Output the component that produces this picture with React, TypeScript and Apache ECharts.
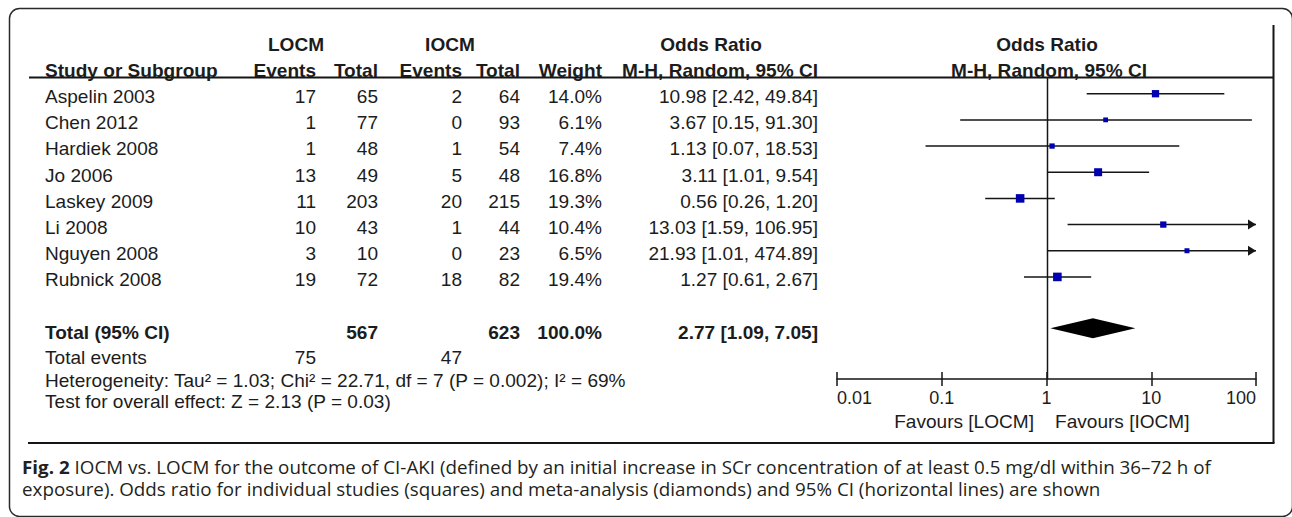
import React, { useEffect, useRef } from "react";
import * as echarts from "echarts";

// ---------- data ----------
const studies = ["Aspelin 2003", "Chen 2012", "Hardiek 2008", "Jo 2006", "Laskey 2009", "Li 2008", "Nguyen 2008", "Rubnick 2008"];
const locmEvents = [17, 1, 1, 13, 11, 10, 3, 19];
const locmTotal = [65, 77, 48, 49, 203, 43, 10, 72];
const iocmEvents = [2, 0, 1, 5, 20, 1, 0, 18];
const iocmTotal = [64, 93, 54, 48, 215, 44, 23, 82];
const weights = [14.0, 6.1, 7.4, 16.8, 19.3, 10.4, 6.5, 19.4];
const oddsRatio = [10.98, 3.67, 1.13, 3.11, 0.56, 13.03, 21.93, 1.27];
const ciLower = [2.42, 0.15, 0.07, 1.01, 0.26, 1.59, 1.01, 0.61];
const ciUpper = [49.84, 91.3, 18.53, 9.54, 1.2, 106.95, 474.89, 2.67];

const totalLabel = "Total (95% CI)";
const totalLocm = 567;
const totalIocm = 623;
const totalWeight = 100.0;
const pooledOR = 2.77;
const pooledLower = 1.09;
const pooledUpper = 7.05;
const totalEventsLocm = 75;
const totalEventsIocm = 47;
const heterogeneityText = "Heterogeneity: Tau² = 1.03; Chi² = 22.71, df = 7 (P = 0.002); I² = 69%";
const overallEffectText = "Test for overall effect: Z = 2.13 (P = 0.03)";
const xTicks = [0.01, 0.1, 1, 10, 100];
const favoursLabels = ["Favours [LOCM]", "Favours [IOCM]"];
const captionBold = "Fig. 2";
const captionLine1 = " IOCM vs. LOCM for the outcome of CI-AKI (defined by an initial increase in SCr concentration of at least 0.5 mg/dl within 36–72 h of";
const captionLine2 = "exposure). Odds ratio for individual studies (squares) and meta-analysis (diamonds) and 95% CI (horizontal lines) are shown";

// ---------- layout ----------
const W = 1292;
const H = 517;
const GRID_LEFT = 837;
const GRID_RIGHT_PX = 1256;
const GRID_TOP = 78;
const GRID_BOTTOM_PX = 379;
const Y_MIN = -0.6;
const Y_MAX = 10.9;
const X_MIN = xTicks[0];
const X_MAX = xTicks[xTicks.length - 1];
const TOTAL_ROW = 9;
const ROW_H = (GRID_BOTTOM_PX - GRID_TOP) / (Y_MAX - Y_MIN);
const rowPx = (r: number) => GRID_TOP + (r - Y_MIN) * ROW_H;

const FONT = "'Liberation Sans', Arial, Helvetica, sans-serif";
const CAP_FONT = "'Open Sans', sans-serif";
const FS = 18;
const SX = 1.06;
const TXT = "#1c1c1c";
const LINE = "#151515";
const BLUE = "#0000b0";

const COL = {
  name: 45,
  ev1: 316,
  tot1: 378,
  ev2: 462,
  tot2: 520,
  weight: 602,
  orText: 818,
};

const fmtOR = (o: number, l: number, u: number) => `${o.toFixed(2)} [${l.toFixed(2)}, ${u.toFixed(2)}]`;

function txt(text: string, x: number, y: number, align: string, bold = false) {
  return {
    type: "text",
    x,
    y,
    scaleX: SX,
    silent: true,
    style: {
      text,
      fill: TXT,
      font: `${bold ? "bold " : ""}${FS}px ${FONT}`,
      align,
      verticalAlign: "middle",
    },
  };
}

export default function App() {
  const ref = useRef<HTMLDivElement>(null);

  useEffect(() => {
    if (!ref.current) return;
    const chart = echarts.init(ref.current, null, { renderer: "svg" });

    const hdr1 = rowPx(-2) + 3;
    const hdr2 = rowPx(-1) + 3;
    const footEvents = rowPx(10) + 2;
    const footHet = rowPx(10.85) + 3;
    const footTest = rowPx(11.65) + 3;

    const graphic: any[] = [
      {
        type: "rect",
        z: -10,
        silent: true,
        shape: { x: 9.5, y: 8.5, width: 1283, height: 508, r: 10 },
        style: { fill: "none", stroke: "#2a2a2a", lineWidth: 1.5 },
      },
      { type: "line", silent: true, shape: { x1: 29, y1: GRID_TOP - 0.5, x2: 1274, y2: GRID_TOP - 0.5 }, style: { stroke: LINE, lineWidth: 2 } },
      { type: "line", silent: true, shape: { x1: 1273.5, y1: 25, x2: 1273.5, y2: 443 }, style: { stroke: LINE, lineWidth: 2 } },
      { type: "line", silent: true, shape: { x1: 28, y1: 443, x2: 1274.5, y2: 443 }, style: { stroke: LINE, lineWidth: 2 } },
      txt("LOCM", 296, hdr1, "center", true),
      txt("IOCM", 450, hdr1, "center", true),
      txt("Odds Ratio", 711, hdr1, "center", true),
      txt("Odds Ratio", 1047, hdr1, "center", true),
      txt("Study or Subgroup", COL.name, hdr2, "left", true),
      txt("Events", COL.ev1, hdr2, "right", true),
      txt("Total", COL.tot1, hdr2, "right", true),
      txt("Events", COL.ev2, hdr2, "right", true),
      txt("Total", COL.tot2, hdr2, "right", true),
      txt("Weight", COL.weight, hdr2, "right", true),
      txt("M-H, Random, 95% CI", COL.orText, hdr2, "right", true),
      txt("M-H, Random, 95% CI", 1049, hdr2, "center", true),
      txt("Total events", COL.name, footEvents, "left"),
      txt(String(totalEventsLocm), COL.ev1, footEvents, "right"),
      txt(String(totalEventsIocm), COL.ev2, footEvents, "right"),
      txt(heterogeneityText, COL.name, footHet, "left"),
      txt(overallEffectText, COL.name, footTest, "left"),
      txt(favoursLabels[0], 1034, 422, "right"),
      txt(favoursLabels[1], 1055, 422, "left"),
      {
        type: "text",
        x: 22,
        y: 478,
        scaleX: 1.045,
        silent: true,
        style: {
          text: `{b|${captionBold}}{r|${captionLine1}}\n{r|${captionLine2}}`,
          font: `18px ${CAP_FONT}`,
          fill: "#231f20",
          align: "left",
          verticalAlign: "middle",
          lineHeight: 22,
          rich: {
            b: { fontWeight: "bold", fontSize: 18, fontFamily: CAP_FONT, fill: "#231f20", lineHeight: 22 },
            r: { fontSize: 18, fontFamily: CAP_FONT, fill: "#231f20", lineHeight: 22 },
          },
        },
      },
    ];

    const studyData = studies.map((_, i) => [oddsRatio[i], i]);

    const option: any = {
      animation: false,
      backgroundColor: "#ffffff",
      grid: {
        left: GRID_LEFT,
        right: W - GRID_RIGHT_PX,
        top: GRID_TOP,
        bottom: H - GRID_BOTTOM_PX,
        containLabel: false,
      },
      xAxis: [
        {
          type: "log",
          logBase: 10,
          min: X_MIN,
          max: X_MAX,
          position: "bottom",
          splitLine: { show: false },
          axisLine: { show: true, onZero: false, lineStyle: { color: LINE, width: 1.5 } },
          axisTick: { show: true, inside: false, length: 7, lineStyle: { color: LINE, width: 1.5 } },
          minorTick: { show: false },
          axisLabel: {
            show: true,
            margin: 10,
            color: TXT,
            fontSize: FS,
            fontFamily: FONT,
            alignMinLabel: "left",
            alignMaxLabel: "right",
            formatter: (v: number) => String(parseFloat(Number(v).toPrecision(3))),
          },
        },
        {
          type: "log",
          logBase: 10,
          min: X_MIN,
          max: X_MAX,
          position: "bottom",
          splitLine: { show: false },
          axisLine: { show: false, onZero: false },
          axisTick: { show: true, inside: true, length: 7, lineStyle: { color: LINE, width: 1.5 } },
          axisLabel: { show: false },
        },
      ],
      yAxis: {
        type: "value",
        inverse: true,
        min: Y_MIN,
        max: Y_MAX,
        show: false,
        splitLine: { show: false },
      },
      graphic,
      series: [
        {
          name: "reference",
          type: "custom",
          clip: false,
          silent: true,
          data: [[1, Y_MIN]],
          encode: { x: 0, y: 1 },
          renderItem: (_params: any, api: any) => {
            const top = api.coord([1, Y_MIN]);
            const bot = api.coord([1, Y_MAX]);
            return {
              type: "line",
              shape: { x1: Math.round(top[0]) + 0.5, y1: top[1], x2: Math.round(bot[0]) + 0.5, y2: bot[1] },
              style: { stroke: LINE, lineWidth: 1.5 },
            };
          },
        },
        {
          name: "studies",
          type: "custom",
          clip: false,
          silent: true,
          data: studyData,
          encode: { x: 0, y: 1 },
          z: 3,
          renderItem: (params: any, api: any) => {
            const i = params.dataIndex;
            const yc = api.coord([1, i])[1];
            const lo = Math.max(ciLower[i], X_MIN);
            const hi = Math.min(ciUpper[i], X_MAX);
            const xl = api.coord([lo, i])[0];
            const xh = api.coord([hi, i])[0];
            const xo = api.coord([oddsRatio[i], i])[0];
            const children: any[] = [];
            children.push({
              type: "line",
              shape: { x1: xl, y1: yc, x2: xh, y2: yc },
              style: { stroke: LINE, lineWidth: 1.5 },
            });
            if (ciUpper[i] > X_MAX) {
              children.push({
                type: "polygon",
                shape: { points: [[xh - 8, yc - 5], [xh, yc], [xh - 8, yc + 5]] },
                style: { fill: LINE },
              });
            }
            if (ciLower[i] < X_MIN) {
              children.push({
                type: "polygon",
                shape: { points: [[xl + 8, yc - 5], [xl, yc], [xl + 8, yc + 5]] },
                style: { fill: LINE },
              });
            }
            const s = 1.95 * Math.sqrt(weights[i]);
            children.push({
              type: "rect",
              shape: { x: xo - s / 2, y: yc - s / 2, width: s, height: s },
              style: { fill: BLUE },
            });
            const ty = yc + 3;
            children.push(txt(studies[i], COL.name, ty, "left"));
            children.push(txt(String(locmEvents[i]), COL.ev1, ty, "right"));
            children.push(txt(String(locmTotal[i]), COL.tot1, ty, "right"));
            children.push(txt(String(iocmEvents[i]), COL.ev2, ty, "right"));
            children.push(txt(String(iocmTotal[i]), COL.tot2, ty, "right"));
            children.push(txt(`${weights[i].toFixed(1)}%`, COL.weight, ty, "right"));
            children.push(txt(fmtOR(oddsRatio[i], ciLower[i], ciUpper[i]), COL.orText, ty, "right"));
            return { type: "group", children };
          },
        },
        {
          name: "total",
          type: "custom",
          clip: false,
          silent: true,
          data: [[pooledOR, TOTAL_ROW]],
          encode: { x: 0, y: 1 },
          z: 3,
          renderItem: (_params: any, api: any) => {
            const c = api.coord([pooledOR, TOTAL_ROW]);
            const l = api.coord([pooledLower, TOTAL_ROW]);
            const u = api.coord([pooledUpper, TOTAL_ROW]);
            const yc = c[1] - 1;
            const ty = c[1] + 3;
            return {
              type: "group",
              children: [
                {
                  type: "polygon",
                  shape: { points: [[l[0], yc], [c[0], yc - 10], [u[0], yc], [c[0], yc + 10]] },
                  style: { fill: "#000000" },
                },
                txt(totalLabel, COL.name, ty, "left", true),
                txt(String(totalLocm), COL.tot1, ty, "right", true),
                txt(String(totalIocm), COL.tot2, ty, "right", true),
                txt(`${totalWeight.toFixed(1)}%`, COL.weight, ty, "right", true),
                txt(fmtOR(pooledOR, pooledLower, pooledUpper), COL.orText, ty, "right", true),
              ],
            };
          },
        },
      ],
    };

    chart.setOption(option);
    return () => chart.dispose();
  }, []);

  return (
    <div
      ref={ref}
      style={{ position: "absolute", left: 0, top: 0, width: W, height: H, background: "#fff" }}
    />
  );
}
